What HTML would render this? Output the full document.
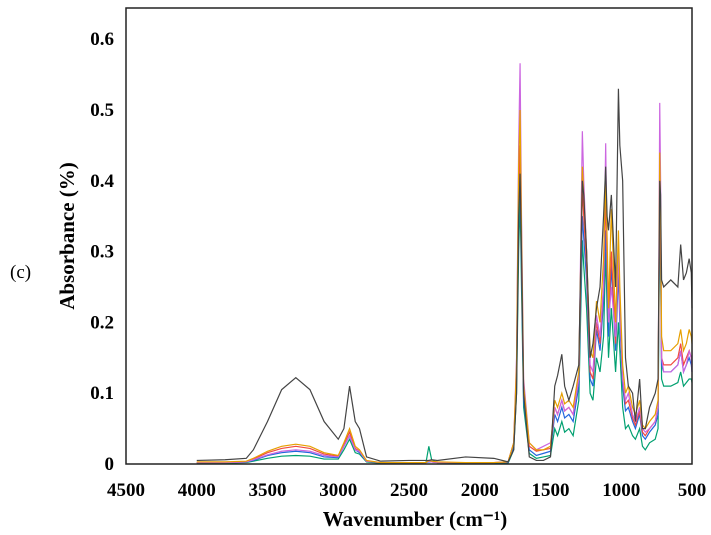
<!DOCTYPE html>
<html><head><meta charset="utf-8"><style>
html,body{margin:0;padding:0;background:#fff;}
svg{display:block;font-family:"Liberation Serif",serif;}
</style></head><body>
<svg id="chart" width="711" height="535" viewBox="0 0 711 535" xmlns="http://www.w3.org/2000/svg">
<text x="10" y="278" font-size="19">(c)</text>
<g id="plot"></g>
<rect x="126" y="8" width="566" height="456" fill="none" stroke="#222" stroke-width="1.5"/>
<g id="xticks"></g><g id="yticks"></g>
<text x="415" y="526" font-size="21" font-weight="bold" text-anchor="middle">Wavenumber (cm⁻¹)</text>
<text transform="translate(74,236) rotate(-90)" font-size="21" font-weight="bold" text-anchor="middle">Absorbance (%)</text>
</svg>
<script>
const wavenumbers=[4000,3800,3650,3600,3500,3400,3300,3200,3100,3000,2960,2920,2880,2850,2800,2700,2500,2380,2360,2340,2300,2100,1900,1800,1760,1740,1725,1715,1705,1690,1650,1600,1550,1500,1470,1450,1420,1400,1370,1340,1300,1275,1265,1245,1220,1200,1175,1150,1125,1110,1100,1090,1070,1040,1020,1010,990,970,950,920,900,870,850,830,800,760,740,728,722,715,700,650,600,580,560,540,520,505,500];
const blackSeries=[.005,.006,.008,.02,.06,.105,.122,.105,.06,.035,.05,.11,.06,.05,.01,.004,.005,.005,.005,.006,.005,.01,.008,.003,.02,.1,.35,.41,.3,.1,.01,.005,.005,.01,.11,.125,.155,.11,.09,.11,.14,.4,.38,.3,.15,.17,.22,.25,.35,.42,.35,.33,.38,.25,.53,.45,.4,.15,.11,.1,.06,.12,.05,.05,.08,.1,.12,.4,.38,.26,.25,.26,.25,.31,.26,.27,.29,.27,.22];
const purpleSeries=[.002,.002,.003,.006,.013,.018,.02,.018,.012,.01,.025,.04,.02,.018,.004,.002,.002,.002,.004,.003,.002,.002,.002,.003,.03,.15,.45,.566,.35,.12,.03,.02,.025,.03,.08,.07,.09,.075,.08,.07,.12,.47,.4,.3,.14,.13,.21,.18,.25,.453,.3,.2,.25,.18,.3,.22,.12,.09,.1,.07,.06,.08,.05,.045,.05,.06,.08,.51,.4,.15,.13,.13,.14,.16,.13,.14,.16,.15,.13];
const orangeSeries=[.003,.003,.004,.008,.018,.025,.028,.025,.016,.012,.03,.05,.025,.02,.005,.002,.002,.002,.005,.004,.003,.002,.002,.003,.03,.14,.42,.50,.33,.11,.03,.02,.02,.025,.09,.08,.1,.085,.09,.08,.13,.42,.38,.3,.16,.15,.23,.2,.29,.40,.32,.22,.36,.2,.33,.25,.14,.1,.11,.08,.07,.09,.055,.05,.06,.07,.09,.44,.35,.18,.16,.16,.17,.19,.16,.17,.19,.18,.17];
const redSeries=[.002,.002,.003,.007,.016,.022,.025,.022,.014,.011,.028,.045,.022,.018,.004,.002,.002,.002,.004,.003,.002,.002,.002,.003,.03,.13,.38,.45,.3,.1,.025,.018,.02,.022,.08,.07,.09,.075,.08,.07,.12,.39,.35,.28,.13,.12,.2,.17,.25,.38,.28,.2,.3,.17,.3,.22,.12,.085,.09,.065,.055,.075,.045,.04,.05,.06,.08,.42,.33,.15,.14,.14,.15,.17,.14,.15,.16,.15,.14];
const blueSeries=[.002,.002,.003,.005,.012,.016,.018,.016,.01,.009,.025,.04,.02,.016,.004,.002,.002,.002,.003,.003,.002,.002,.002,.002,.025,.12,.35,.42,.28,.09,.02,.012,.015,.018,.07,.06,.08,.065,.07,.06,.11,.35,.32,.26,.12,.11,.19,.16,.23,.33,.26,.18,.28,.16,.27,.2,.11,.075,.08,.06,.05,.07,.04,.035,.045,.055,.07,.40,.31,.14,.13,.13,.14,.16,.13,.14,.15,.14,.13];
const greenSeries=[.001,.001,.002,.004,.008,.011,.012,.011,.007,.007,.02,.035,.016,.014,.003,.001,.001,.002,.025,.006,.002,.001,.001,.001,.02,.1,.3,.375,.25,.08,.015,.008,.01,.012,.05,.04,.06,.045,.05,.04,.09,.316,.28,.22,.1,.09,.15,.13,.18,.30,.22,.15,.22,.13,.2,.16,.08,.05,.055,.04,.035,.05,.025,.02,.03,.035,.05,.36,.28,.12,.11,.11,.115,.13,.11,.115,.12,.12,.115];
const xTickLabels=[4500,4000,3500,3000,2500,2000,1500,1000,500];
const yTickLabels=[0,0.1,0.2,0.3,0.4,0.5,0.6];

const NS="http://www.w3.org/2000/svg";
const X0=126,X1=692,Y0=464,Y1=8,YMAX=0.644;
function xs(w){return X0+(4500-w)/4000*(X1-X0);}
function ys(v){return Y0-v/YMAX*(Y0-Y1);}
const plot=document.getElementById('plot');
const series=[
 ['series-green',greenSeries,'#00a070'],
 ['series-blue',blueSeries,'#2266dd'],
 ['series-red',redSeries,'#f04a40'],
 ['series-purple',purpleSeries,'#cc66e0'],
 ['series-orange',orangeSeries,'#e69f00'],
 ['series-black',blackSeries,'#444444']];
series.forEach(s=>{
  const vals=s[1];const n=Math.min(vals.length,wavenumbers.length);
  let d='';
  for(let i=0;i<n;i++){d+=(i?'L':'M')+xs(wavenumbers[i]).toFixed(2)+','+ys(vals[i]).toFixed(2);}
  const p=document.createElementNS(NS,'path');
  
  
  p.setAttribute('d',d);p.setAttribute('fill','none');p.setAttribute('stroke',s[2]);p.setAttribute('stroke-width','1.2');
  plot.appendChild(p);
});
const xt=document.getElementById('xticks');
xTickLabels.forEach(v=>{
  const t=document.createElementNS(NS,'text');
  
  
  t.setAttribute('x',xs(v));t.setAttribute('y',496);t.setAttribute('font-size','19');t.setAttribute('font-weight','bold');t.setAttribute('text-anchor','middle');
  t.textContent=v;xt.appendChild(t);
});
const yt=document.getElementById('yticks');
yTickLabels.forEach(v=>{
  const t=document.createElementNS(NS,'text');
  
  
  t.setAttribute('x',114);t.setAttribute('y',ys(v)+6);t.setAttribute('font-size','19');t.setAttribute('font-weight','bold');t.setAttribute('text-anchor','end');
  t.textContent=v;yt.appendChild(t);
});
</script>
</body></html>
